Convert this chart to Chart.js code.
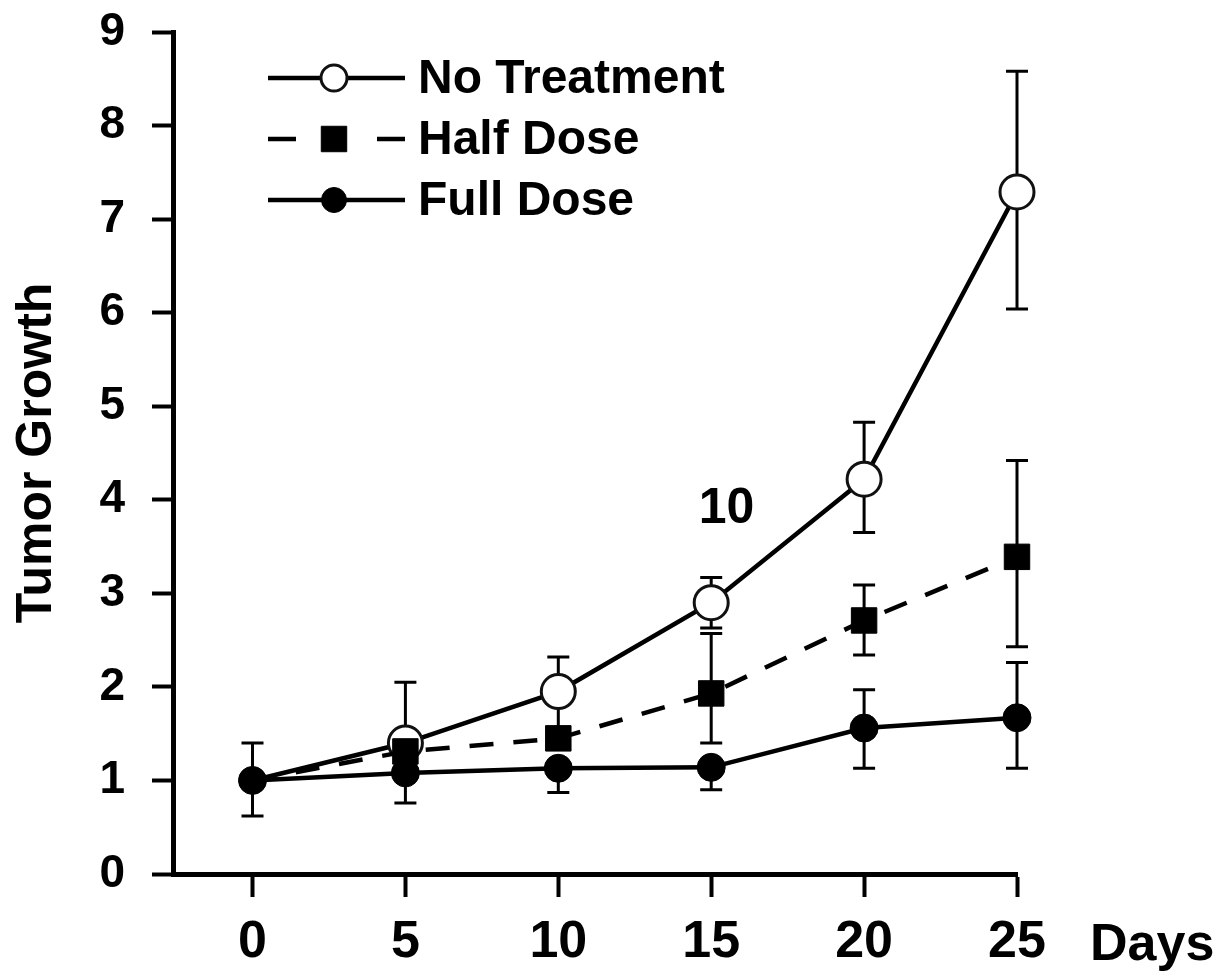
<!DOCTYPE html>
<html>
<head>
<meta charset="utf-8">
<script src="https://cdn.jsdelivr.net/npm/chart.js@4/dist/chart.umd.min.js"></script>
<style>
html, body { margin: 0; padding: 0; background: #fff; }
#wrap { width: 1221px; height: 972px; }
</style>
</head>
<body>
<div id="wrap"><canvas id="chart"></canvas></div>
<script>
"use strict";
// x axis (days) and tick labels
const days = [0, 5, 10, 15, 20, 25];
const xTicks = [0, 5, 10, 15, 20, 25];
const yTicks = [0, 1, 2, 3, 4, 5, 6, 7, 8, 9];

// series, with upper / lower ends of the error bars
const noTreatment   = [1.00, 1.40, 1.95, 2.90, 4.22, 7.29];
const noTreatmentHi = [1.40, 2.05, 2.32, 3.17, 4.83, 8.58];
const noTreatmentLo = [1.00, 1.40, 1.55, 2.63, 3.65, 6.04];

const halfDose   = [1.00, 1.31, 1.45, 1.93, 2.71, 3.39];
const halfDoseHi = [1.00, 1.31, 1.45, 2.57, 3.09, 4.42];
const halfDoseLo = [1.00, 1.31, 1.45, 1.40, 2.34, 2.43];

const fullDose   = [1.00, 1.08, 1.13, 1.14, 1.56, 1.67];
const fullDoseHi = [1.00, 1.08, 1.13, 1.14, 1.97, 2.26];
const fullDoseLo = [0.62, 0.76, 0.87, 0.90, 1.13, 1.13];

const seriesNames = ["No Treatment", "Half Dose", "Full Dose"];
const note = { x: 15.5, y: 3.9, text: "10" };

const FONT = "'Liberation Sans', Arial, sans-serif";

const pts = (arr) => days.map((d, i) => ({ x: d, y: arr[i] }));
// at day 0 all groups start together, only the full dose dot shows
const radii = (r) => days.map((d) => (d === 0 ? 12 : r));

// error bars go under the markers
const errorBars = {
	id: 'errorBars',
	beforeDatasetsDraw(chart) {
		const ctx = chart.ctx, x = chart.scales.x, y = chart.scales.y;
		ctx.save();
		ctx.strokeStyle = '#000';
		ctx.lineWidth = 3;
		chart.data.datasets.forEach((ds) => {
			ds.data.forEach((p, i) => {
				const px = x.getPixelForValue(p.x);
				const py = y.getPixelForValue(p.y);
				const top = y.getPixelForValue(ds.hi[i]);
				const bot = y.getPixelForValue(ds.lo[i]);
				ctx.beginPath();
				if (ds.hi[i] > p.y) {
					ctx.moveTo(px, py); ctx.lineTo(px, top);
					ctx.moveTo(px - 11, top); ctx.lineTo(px + 11, top);
				}
				if (ds.lo[i] < p.y) {
					ctx.moveTo(px, py); ctx.lineTo(px, bot);
					ctx.moveTo(px - 11, bot); ctx.lineTo(px + 11, bot);
				}
				ctx.stroke();
			});
		});
		ctx.restore();
	}
};

// legend, the "10" note and the "Days" word
const extras = {
	id: 'extras',
	afterDraw(chart) {
		const ctx = chart.ctx, x = chart.scales.x, y = chart.scales.y;
		const area = chart.chartArea;
		ctx.save();
		ctx.fillStyle = '#000';
		ctx.font = 'bold 52px ' + FONT;
		ctx.textBaseline = 'top';
		ctx.textAlign = 'left';
		ctx.fillText('Days', area.right + 73, area.bottom + 46);

		ctx.font = 'bold 50px ' + FONT;
		ctx.textAlign = 'center';
		ctx.textBaseline = 'middle';
		ctx.fillText(note.text, x.getPixelForValue(note.x), y.getPixelForValue(note.y));

		const lx0 = 268, lx1 = 405, mx = 334;
		chart.data.datasets.forEach((ds, i) => {
			const ly = 78 + i * 61;
			ctx.strokeStyle = '#000';
			ctx.lineWidth = 4.5;
			ctx.beginPath();
			if (ds.borderDash && ds.borderDash.length) {
				ctx.moveTo(lx0, ly); ctx.lineTo(lx0 + 28, ly);
				ctx.moveTo(lx1 - 28, ly); ctx.lineTo(lx1, ly);
			} else {
				ctx.moveTo(lx0, ly); ctx.lineTo(lx1, ly);
			}
			ctx.stroke();
			ctx.fillStyle = ds.pointBackgroundColor;
			ctx.strokeStyle = ds.pointBorderColor;
			ctx.lineWidth = ds.pointBorderWidth;
			Chart.helpers.drawPoint(ctx, {
				pointStyle: ds.pointStyle,
				radius: ds.legendRadius,
				rotation: 0,
				borderWidth: ds.pointBorderWidth
			}, mx, ly);
			ctx.fillStyle = '#000';
			ctx.font = 'bold 48px ' + FONT;
			ctx.textAlign = 'left';
			ctx.textBaseline = 'middle';
			ctx.fillText(ds.label, 418, ly + 2);
		});
		ctx.restore();
	}
};

new Chart(document.getElementById('chart'), {
	type: 'line',
	data: {
		datasets: [{
			label: seriesNames[0],
			data: pts(noTreatment), hi: noTreatmentHi, lo: noTreatmentLo,
			borderColor: '#000', borderWidth: 4.5,
			pointStyle: 'circle', pointRadius: radii(17), legendRadius: 13,
			pointBackgroundColor: '#fff', pointBorderColor: '#111', pointBorderWidth: 3,
			order: 3, clip: false
		}, {
			label: seriesNames[1],
			data: pts(halfDose), hi: halfDoseHi, lo: halfDoseLo,
			borderColor: '#000', borderWidth: 4.5, borderDash: [24, 20],
			pointStyle: 'rect', pointRadius: radii(18), legendRadius: 18,
			pointBackgroundColor: '#000', pointBorderColor: '#000', pointBorderWidth: 1,
			order: 2, clip: false
		}, {
			label: seriesNames[2],
			data: pts(fullDose), hi: fullDoseHi, lo: fullDoseLo,
			borderColor: '#000', borderWidth: 4.5,
			pointStyle: 'circle', pointRadius: 14, legendRadius: 12.5,
			pointBackgroundColor: '#000', pointBorderColor: '#000', pointBorderWidth: 1,
			order: 1, clip: false
		}]
	},
	options: {
		responsive: true,
		maintainAspectRatio: false,
		animation: false,
		layout: { padding: { top: 32, right: 204, left: 0, bottom: 0 } },
		plugins: { legend: { display: false }, tooltip: { enabled: false } },
		scales: {
			x: {
				type: 'linear', min: -2.6, max: 25,
				afterFit: (s) => { s.height = 98; s.paddingLeft = 0; s.paddingRight = 0; },
				afterBuildTicks: (s) => { s.ticks = xTicks.map(v => ({ value: v })); },
				grid: { display: true, drawOnChartArea: false, drawTicks: true, tickLength: 23, tickWidth: 4, tickColor: '#000' },
				border: { display: true, color: '#000', width: 5 },
				ticks: { color: '#000', padding: 14, maxRotation: 0, autoSkip: false,
					font: { family: FONT, size: 52, weight: 'bold' } }
			},
			y: {
				min: 0, max: 9,
				afterFit: (s) => { s.width = 173; s.paddingTop = 0; s.paddingBottom = 0; },
				afterBuildTicks: (s) => { s.ticks = yTicks.map(v => ({ value: v })); },
				grid: { display: true, drawOnChartArea: false, drawTicks: true, tickLength: 21, tickWidth: 4, tickColor: '#000' },
				border: { display: true, color: '#000', width: 5 },
				ticks: { color: '#000', padding: 27,
					font: { family: FONT, size: 46, weight: 'bold' } },
				title: { display: true, text: 'Tumor Growth', color: '#000', padding: { top: 12, bottom: 0 },
					font: { family: FONT, size: 50, weight: 'bold', lineHeight: 1 } }
			}
		}
	},
	plugins: [errorBars, extras]
});
</script>
</body>
</html>
